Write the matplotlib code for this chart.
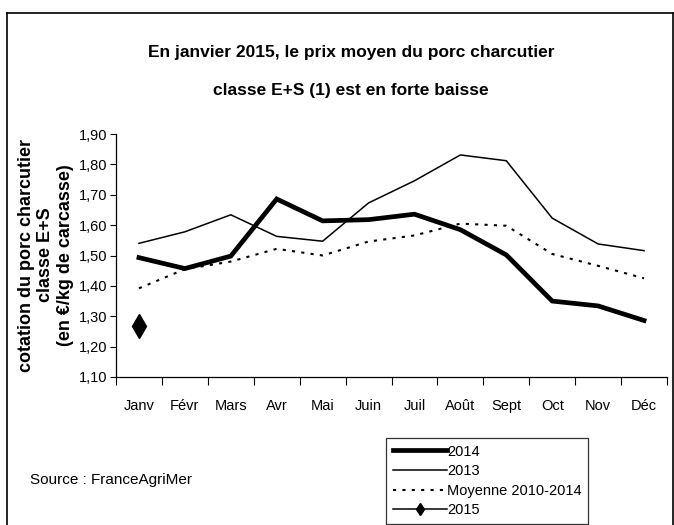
import matplotlib
matplotlib.use("Agg")
import matplotlib.pyplot as plt
from matplotlib.lines import Line2D

plt.rcParams['font.family'] = ['Liberation Sans', 'DejaVu Sans']

months = ['Janv', 'Févr', 'Mars', 'Avr', 'Mai', 'Juin', 'Juil', 'Août', 'Sept', 'Oct', 'Nov', 'Déc']
s2014 = [1.493, 1.457, 1.498, 1.686, 1.614, 1.618, 1.636, 1.585, 1.502, 1.350, 1.334, 1.286]
s2013 = [1.540, 1.578, 1.634, 1.563, 1.547, 1.673, 1.746, 1.831, 1.812, 1.623, 1.538, 1.516]
moyenne = [1.392, 1.455, 1.480, 1.522, 1.500, 1.546, 1.566, 1.605, 1.598, 1.505, 1.466, 1.425]
s2015 = [1.268]
yticks = [1.10, 1.20, 1.30, 1.40, 1.50, 1.60, 1.70, 1.80, 1.90]

W, H = 674, 525
fig = plt.figure(figsize=(W / 100, H / 100), dpi=100)
ax = fig.add_axes([116 / W, 1 - 377 / H, (667 - 116) / W, (377 - 134) / H])

x = [i + 0.5 for i in range(len(months))]
l14, = ax.plot(x, s2014, color='black', lw=3.4, solid_joinstyle='miter')
l13, = ax.plot(x, s2013, color='black', lw=1.1)
lmo, = ax.plot(x, moyenne, color='black', lw=1.5, linestyle=(0, (1.5, 3)))
l15, = ax.plot(x[:len(s2015)], s2015, color='black', lw=1.1, marker='d', markersize=12)

ax.set_xlim(0, 12)
ax.set_ylim(1.10, 1.90)
ax.set_yticks(yticks)
ax.set_yticklabels([f"{v:.2f}".replace('.', ',') for v in yticks], fontsize=10.5)
ax.set_xticks(range(13))
ax.set_xticklabels([])
ax.set_xticks(x, minor=True)
ax.set_xticklabels(months, minor=True, fontsize=10.5)
ax.tick_params(axis='x', which='major', direction='out', length=6, width=0.8)
ax.tick_params(axis='x', which='minor', length=0, pad=16)
ax.tick_params(axis='y', direction='out', length=4, width=0.8, pad=2)
for s in ['top', 'right']:
    ax.spines[s].set_visible(False)
for s in ['left', 'bottom']:
    ax.spines[s].set_linewidth(0.9)

fig.text(351 / W, 1 - 52 / H, "En janvier 2015, le prix moyen du porc charcutier",
         ha='center', va='center', fontsize=12.5, fontweight='bold')
fig.text(351 / W, 1 - 90 / H, "classe E+S (1) est en forte baisse",
         ha='center', va='center', fontsize=12.5, fontweight='bold')

ylab_kw = dict(rotation=90, ha='center', va='center', fontsize=13, fontweight='bold')
fig.text(27 / W, 1 - 255 / H, "cotation du porc charcutier", **ylab_kw)
fig.text(46 / W, 1 - 255 / H, "classe E+S", **ylab_kw)
fig.text(65 / W, 1 - 255 / H, "(en €/kg de carcasse)", **ylab_kw)

fig.text(30 / W, 1 - 480 / H, "Source : FranceAgriMer", ha='left', va='center', fontsize=11)

leg = fig.legend([l14, l13, lmo, l15], ['2014', '2013', 'Moyenne 2010-2014', '2015'],
                 loc='upper left', bbox_to_anchor=(386 / W, 1 - 438 / H),
                 fontsize=10.5, frameon=True, fancybox=False, handlelength=3.7,
                 handletextpad=0.05, labelspacing=0.38, borderpad=0.45, borderaxespad=0,
                 markerscale=0.5)
leg.get_frame().set_edgecolor('black')
leg.get_frame().set_linewidth(0.9)

fig.add_artist(Line2D([7 / W, 7 / W], [-0.1, 1 - 13 / H], transform=fig.transFigure, color='black', lw=1.2))
fig.add_artist(Line2D([7 / W, 673 / W], [1 - 13 / H, 1 - 13 / H], transform=fig.transFigure, color='black', lw=1.2))
fig.add_artist(Line2D([673 / W, 673 / W], [-0.1, 1 - 13 / H], transform=fig.transFigure, color='black', lw=1.2))

fig.savefig('out.png', dpi=100)
